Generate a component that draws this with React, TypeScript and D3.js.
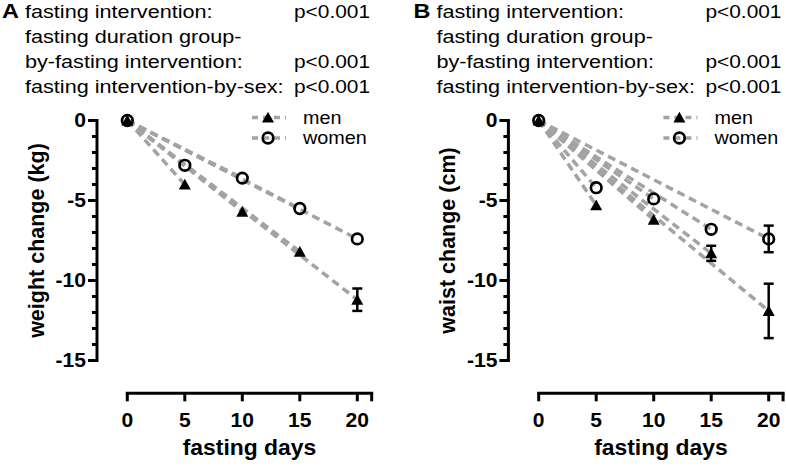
import * as d3 from "d3";

const days = [5, 10, 15, 20];

const weightMen = [-4.0, -5.7, -8.2, -11.2];
const weightMenSE = [0, 0, 0, 0.7];
const weightWomen = [-2.8, -3.6, -5.5, -7.4];
const weightWomenSE = [0, 0, 0, 0];

const waistMen = [-5.3, -6.2, -8.3, -11.9];
const waistMenSE = [0, 0, 0.47, 1.7];
const waistWomen = [-4.2, -4.9, -6.8, -7.4];
const waistWomenSE = [0, 0, 0, 0.83];

const xTicks = [0, 5, 10, 15, 20];
const yTicks = [0, -5, -10, -15];
const yMinor = d3.range(0, -16, -1);

const statLabels = [
  "fasting intervention:",
  "fasting duration group-",
  "by-fasting intervention:",
  "fasting intervention-by-sex:",
];
const statValues = ["p<0.001", "", "p<0.001", "p<0.001"];
const legendLabels = ["men", "women"];

const FONT = "'Liberation Sans', Arial, sans-serif";
const DASH_COLOR = "#a3a3a3";

interface PanelProps {
  left: number;
  letter: string;
  yLabel: string;
  men: number[];
  menSE: number[];
  women: number[];
  womenSE: number[];
}

// text stretched horizontally like the original export
function SText({
  x,
  y,
  sx,
  children,
  ...rest
}: {
  x: number;
  y: number;
  sx: number;
  children: React.ReactNode;
  [k: string]: any;
}) {
  return (
    <text transform={`translate(${x},${y}) scale(${sx},1)`} {...rest}>
      {children}
    </text>
  );
}

function Triangle({ cx, cy }: { cx: number; cy: number }) {
  return (
    <path
      d={`M${cx},${cy - 5.8} L${cx + 6},${cy + 5} L${cx - 6},${cy + 5} Z`}
      fill="black"
    />
  );
}

function Circle({ cx, cy }: { cx: number; cy: number }) {
  return <circle cx={cx} cy={cy} r={5.3} fill="none" stroke="black" strokeWidth={2.7} />;
}

function Panel({ left, letter, yLabel, men, menSE, women, womenSE }: PanelProps) {
  const x = d3.scaleLinear().domain([0, 20]).range([left + 127.3, left + 357.3]);
  const y = d3.scaleLinear().domain([0, -15]).range([120.5, 360.5]);
  const axisX = left + 97;
  const axisY = 393.3;
  const xEnd = x(21.25);

  const errorBar = (d: number, v: number, se: number, key: string) => {
    if (!se) return null;
    const cx = x(d);
    const y1 = y(v + se);
    const y2 = y(v - se);
    return (
      <g key={key} stroke="black" strokeWidth={2.5}>
        <line x1={cx} x2={cx} y1={y1} y2={y2} />
        <line x1={cx - 5} x2={cx + 5} y1={y1} y2={y1} />
        <line x1={cx - 5} x2={cx + 5} y1={y2} y2={y2} />
      </g>
    );
  };

  const legendX = left + 268;
  const legendY = [117.5, 138];

  return (
    <g fontFamily={FONT}>
      {/* header */}
      <SText x={left + 2} y={18.3} sx={1.2} fontSize={19.5} fontWeight="bold">
        {letter}
      </SText>
      {statLabels.map((s, i) => (
        <SText key={"l" + i} x={left + 25} y={18.3 + i * 25} sx={1.17} fontSize={18.5}>
          {s}
        </SText>
      ))}
      {statValues.map((s, i) => (
        <SText key={"v" + i} x={left + 294} y={18.3 + i * 25} sx={1.13} fontSize={18.5}>
          {s}
        </SText>
      ))}

      {/* y axis */}
      <line x1={axisX} x2={axisX} y1={y(0) - 1.5} y2={y(-15) + 1.5} stroke="black" strokeWidth={3} />
      {yMinor.map((t) => (
        <line
          key={"m" + t}
          x1={axisX}
          x2={axisX - (t % 5 === 0 ? 9 : 5)}
          y1={y(t)}
          y2={y(t)}
          stroke="black"
          strokeWidth={3}
        />
      ))}
      {yTicks.map((t) => (
        <SText
          key={"yt" + t}
          x={axisX - 11}
          y={y(t)}
          sx={1.08}
          textAnchor="end"
          dominantBaseline="central"
          fontSize={19.5}
          fontWeight="bold"
        >
          {t}
        </SText>
      ))}
      <text
        transform={`translate(${axisX - 53},${(y(0) + y(-15)) / 2}) rotate(-90)`}
        textAnchor="middle"
        fontSize={21.5}
        fontWeight="bold"
      >
        {yLabel}
      </text>

      {/* x axis */}
      <line x1={x(0) - 1.5} x2={xEnd + 1.5} y1={axisY} y2={axisY} stroke="black" strokeWidth={3} />
      {[...xTicks, 21.25].map((t) => (
        <line
          key={"xt" + t}
          x1={x(t)}
          x2={x(t)}
          y1={axisY}
          y2={axisY + 8}
          stroke="black"
          strokeWidth={3}
        />
      ))}
      {xTicks.map((t) => (
        <SText
          key={"xl" + t}
          x={x(t)}
          y={427}
          sx={1.08}
          textAnchor="middle"
          fontSize={19.5}
          fontWeight="bold"
        >
          {t}
        </SText>
      ))}
      <SText x={(x(0) + xEnd) / 2} y={455} sx={1.04} textAnchor="middle" fontSize={22} fontWeight="bold">
        fasting days
      </SText>

      {/* dashed lines from baseline to each group's end point */}
      {days.map((d, i) => (
        <g key={"dl" + d} stroke={DASH_COLOR} strokeWidth={3.5} strokeDasharray="8,5">
          <line x1={x(0)} y1={y(0)} x2={x(d)} y2={y(women[i])} />
          <line x1={x(0)} y1={y(0)} x2={x(d)} y2={y(men[i])} />
        </g>
      ))}

      {/* error bars */}
      {days.map((d, i) => errorBar(d, men[i], menSE[i], "em" + d))}
      {days.map((d, i) => errorBar(d, women[i], womenSE[i], "ew" + d))}

      {/* markers */}
      <Circle cx={x(0)} cy={y(0)} />
      <Triangle cx={x(0)} cy={y(0)} />
      {days.map((d, i) => (
        <Triangle key={"tm" + d} cx={x(d)} cy={y(men[i])} />
      ))}
      {days.map((d, i) => (
        <Circle key={"cw" + d} cx={x(d)} cy={y(women[i])} />
      ))}

      {/* legend */}
      <g stroke={DASH_COLOR} strokeWidth={3.5} strokeDasharray="6,5">
        {legendY.map((ly) => (
          <line key={"ll" + ly} x1={legendX - 16} x2={legendX + 18} y1={ly} y2={ly} />
        ))}
      </g>
      <Triangle cx={legendX} cy={legendY[0]} />
      <Circle cx={legendX} cy={legendY[1]} />
      {legendLabels.map((s, i) => (
        <SText
          key={s}
          x={legendX + 35}
          y={legendY[i] + 6}
          sx={1.1}
          fontSize={18}
        >
          {s}
        </SText>
      ))}
    </g>
  );
}

export default function App() {
  return (
    <svg
      width={786}
      height={466}
      style={{ position: "absolute", left: 0, top: 0, background: "white" }}
    >
      <Panel
        left={0}
        letter="A"
        yLabel="weight change (kg)"
        men={weightMen}
        menSE={weightMenSE}
        women={weightWomen}
        womenSE={weightWomenSE}
      />
      <Panel
        left={411.4}
        letter="B"
        yLabel="waist change (cm)"
        men={waistMen}
        menSE={waistMenSE}
        women={waistWomen}
        womenSE={waistWomenSE}
      />
    </svg>
  );
}
